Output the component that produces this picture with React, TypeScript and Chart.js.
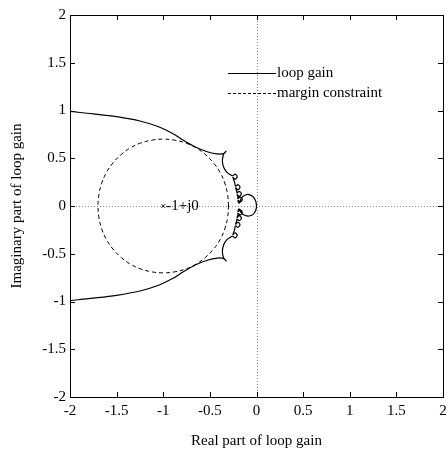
import React, { useEffect, useRef } from "react";
import { Chart, registerables } from "chart.js";

Chart.register(...registerables);

const xTickValues = [-2, -1.5, -1, -0.5, 0, 0.5, 1, 1.5, 2];
const xTickLabels = ["-2", "-1.5", "-1", "-0.5", "0", "0.5", "1", "1.5", "2"];
const yTickValues = [-2, -1.5, -1, -0.5, 0, 0.5, 1, 1.5, 2];
const yTickLabels = ["-2", "-1.5", "-1", "-0.5", "0", "0.5", "1", "1.5", "2"];

const seriesNames = ["loop gain", "margin constraint"];
const xTitle = "Real part of loop gain";
const yTitle = "Imaginary part of loop gain";

// loop gain (Nyquist curve): upper branch, cusp, small loops,
// the little circle at the origin, then the lower branch
const loopGainX = [
  -2.0, -1.75, -1.5, -1.25, -1.05, -0.9, -0.78, -0.65, -0.52, -0.42, -0.355, -0.325, -0.352,
  -0.366, -0.352, -0.317, -0.275,
  -0.255, -0.23, -0.207, -0.23, -0.253, -0.235,
  -0.225, -0.2, -0.177, -0.2, -0.223, -0.212,
  -0.21, -0.185, -0.162, -0.185, -0.208, -0.198,
  -0.2, -0.175, -0.152, -0.175, -0.198, -0.188,
  -0.16, -0.12, -0.08, -0.04, -0.01, 0.0, -0.01, -0.04, -0.08, -0.12, -0.16,
  -0.188, -0.198, -0.175, -0.152, -0.175, -0.2,
  -0.198, -0.208, -0.185, -0.162, -0.185, -0.21,
  -0.212, -0.223, -0.2, -0.177, -0.2, -0.225,
  -0.235, -0.253, -0.23, -0.207, -0.23, -0.255,
  -0.275, -0.317, -0.352, -0.366,
  -0.352, -0.325, -0.355, -0.42, -0.52, -0.65, -0.78, -0.9, -1.05, -1.25, -1.5, -1.75, -2.0,
];
const loopGainY = [
  0.99, 0.965, 0.935, 0.89, 0.83, 0.76, 0.685, 0.615, 0.565, 0.545, 0.548, 0.575, 0.545,
  0.475, 0.405, 0.353, 0.325,
  0.317, 0.333, 0.307, 0.28, 0.3, 0.25,
  0.207, 0.223, 0.197, 0.17, 0.19, 0.155,
  0.137, 0.153, 0.127, 0.1, 0.12, 0.09,
  0.077, 0.093, 0.067, 0.04, 0.06, 0.03,
  0.085, 0.115, 0.12, 0.1, 0.055, 0.0, -0.05, -0.09, -0.105, -0.1, -0.075,
  -0.03, -0.06, -0.04, -0.067, -0.093, -0.077,
  -0.09, -0.12, -0.1, -0.127, -0.153, -0.137,
  -0.155, -0.19, -0.17, -0.197, -0.223, -0.207,
  -0.25, -0.3, -0.28, -0.307, -0.333, -0.317,
  -0.325, -0.353, -0.405, -0.475,
  -0.545, -0.575, -0.548, -0.545, -0.565, -0.615, -0.685, -0.76, -0.83, -0.89, -0.935, -0.965, -0.99,
];

// margin constraint circle (centre -1, radius ~0.7)
const marginX = [
  -0.3, -0.31, -0.34, -0.39, -0.46, -0.55, -0.65, -0.76, -0.88, -1.0,
  -1.12, -1.24, -1.35, -1.45, -1.54, -1.61, -1.66, -1.69, -1.7,
  -1.69, -1.66, -1.61, -1.54, -1.45, -1.35, -1.24, -1.12, -1.0,
  -0.88, -0.76, -0.65, -0.55, -0.46, -0.39, -0.34, -0.31, -0.3,
];
const marginY = [
  0.0, 0.12, 0.24, 0.35, 0.45, 0.54, 0.61, 0.66, 0.69, 0.7,
  0.69, 0.66, 0.61, 0.54, 0.45, 0.35, 0.24, 0.12, 0.0,
  -0.12, -0.24, -0.35, -0.45, -0.54, -0.61, -0.66, -0.69, -0.7,
  -0.69, -0.66, -0.61, -0.54, -0.45, -0.35, -0.24, -0.12, 0.0,
];

const criticalX = [-1];
const criticalY = [0];
const criticalLabel = "-1+j0";

const FONT = "'Liberation Serif', 'Times New Roman', serif";

export default function App() {
  const ref = useRef<HTMLCanvasElement | null>(null);

  useEffect(() => {
    document.body.style.margin = "0";
    const canvas = ref.current;
    if (!canvas) return;

    const framePlugin = {
      id: "framePlugin",
      beforeDatasetsDraw(chart: any) {
        const { ctx, chartArea: a, scales } = chart;
        const x0 = scales.x.getPixelForValue(0);
        const y0 = scales.y.getPixelForValue(0);
        ctx.save();
        ctx.strokeStyle = "#8a8a8a";
        ctx.lineWidth = 1;
        ctx.setLineDash([1, 2]);
        ctx.beginPath();
        ctx.moveTo(Math.round(x0) + 0.5, a.top);
        ctx.lineTo(Math.round(x0) + 0.5, a.bottom);
        ctx.moveTo(a.left, Math.round(y0) + 0.5);
        ctx.lineTo(a.right, Math.round(y0) + 0.5);
        ctx.stroke();
        ctx.restore();
      },
      afterDatasetsDraw(chart: any) {
        const { ctx, chartArea: a, scales } = chart;
        ctx.save();
        ctx.strokeStyle = "#000";
        ctx.lineWidth = 1;
        ctx.setLineDash([]);
        // box
        ctx.strokeRect(
          Math.round(a.left) + 0.5,
          Math.round(a.top) + 0.5,
          Math.round(a.right - a.left),
          Math.round(a.bottom - a.top)
        );
        // inward ticks on all four sides
        const L = 5;
        ctx.beginPath();
        xTickValues.forEach((v) => {
          const px = Math.round(scales.x.getPixelForValue(v)) + 0.5;
          ctx.moveTo(px, a.bottom);
          ctx.lineTo(px, a.bottom - L);
          ctx.moveTo(px, a.top);
          ctx.lineTo(px, a.top + L);
        });
        yTickValues.forEach((v) => {
          const py = Math.round(scales.y.getPixelForValue(v)) + 0.5;
          ctx.moveTo(a.left, py);
          ctx.lineTo(a.left + L, py);
          ctx.moveTo(a.right, py);
          ctx.lineTo(a.right - L, py);
        });
        ctx.stroke();

        // legend
        ctx.font = `15px ${FONT}`;
        ctx.fillStyle = "#000";
        ctx.textBaseline = "middle";
        ctx.textAlign = "left";
        const lx0 = a.left + 158;
        const lx1 = a.left + 206;
        const ly = [a.top + 58, a.top + 78];
        ctx.beginPath();
        ctx.moveTo(lx0, ly[0] + 0.5);
        ctx.lineTo(lx1, ly[0] + 0.5);
        ctx.stroke();
        ctx.setLineDash([3, 2]);
        ctx.beginPath();
        ctx.moveTo(lx0, ly[1] + 0.5);
        ctx.lineTo(lx1, ly[1] + 0.5);
        ctx.stroke();
        ctx.setLineDash([]);
        ctx.fillText(seriesNames[0], lx1 + 1, ly[0]);
        ctx.fillText(seriesNames[1], lx1 + 1, ly[1]);

        // critical point label
        const cx = scales.x.getPixelForValue(criticalX[0]);
        const cy = scales.y.getPixelForValue(criticalY[0]);
        ctx.fillText(criticalLabel, cx + 3, cy);
        ctx.restore();
      },
    };

    const font = { family: FONT, size: 15 };

    const chart = new Chart(canvas, {
      type: "scatter",
      data: {
        datasets: [
          {
            label: seriesNames[0],
            data: loopGainX.map((x, i) => ({ x, y: loopGainY[i] })),
            showLine: true,
            borderColor: "#000",
            borderWidth: 1.2,
            pointRadius: 0,
            tension: 0.35,
            fill: false,
          },
          {
            label: seriesNames[1],
            data: marginX.map((x, i) => ({ x, y: marginY[i] })),
            showLine: true,
            borderColor: "#000",
            borderWidth: 1,
            borderDash: [4, 3],
            pointRadius: 0,
            tension: 0.4,
            fill: false,
          },
          {
            label: "critical",
            data: criticalX.map((x, i) => ({ x, y: criticalY[i] })),
            showLine: false,
            pointStyle: "crossRot",
            pointRadius: 2.5,
            borderColor: "#000",
            borderWidth: 1,
          },
        ],
      },
      options: {
        responsive: false,
        animation: false,
        layout: { padding: { top: 15, right: 3, left: 0, bottom: 0 } },
        plugins: {
          legend: { display: false },
          tooltip: { enabled: false },
        },
        scales: {
          x: {
            type: "linear",
            min: -2,
            max: 2,
            afterBuildTicks: (s: any) => {
              s.ticks = xTickValues.map((v) => ({ value: v }));
            },
            afterFit: (s: any) => {
              s.height = 53;
            },
            ticks: {
              callback: (v: any) => xTickLabels[xTickValues.indexOf(Number(v))],
              font,
              color: "#000",
              padding: 0,
              maxRotation: 0,
              autoSkip: false,
            },
            grid: {
              display: true,
              drawOnChartArea: false,
              drawTicks: true,
              tickLength: 5,
              tickColor: "rgba(0,0,0,0)",
              color: "rgba(0,0,0,0)",
            },
            border: { display: false },
            title: {
              display: true,
              text: xTitle,
              font,
              color: "#000",
              padding: { top: 0, bottom: 0 },
            },
          },
          y: {
            type: "linear",
            min: -2,
            max: 2,
            afterBuildTicks: (s: any) => {
              s.ticks = yTickValues.map((v) => ({ value: v }));
            },
            afterFit: (s: any) => {
              s.width = 70;
            },
            ticks: {
              callback: (v: any) => yTickLabels[yTickValues.indexOf(Number(v))],
              font,
              color: "#000",
              padding: 0,
              autoSkip: false,
            },
            grid: {
              display: true,
              drawOnChartArea: false,
              drawTicks: true,
              tickLength: 4,
              tickColor: "rgba(0,0,0,0)",
              color: "rgba(0,0,0,0)",
            },
            border: { display: false },
            title: {
              display: true,
              text: yTitle,
              font,
              color: "#000",
              padding: { top: 8, bottom: 0 },
            },
          },
        },
      },
      plugins: [framePlugin],
    });

    return () => {
      chart.destroy();
    };
  }, []);

  return (
    <div style={{ width: 448, height: 450 }}>
      <canvas ref={ref} width={448} height={450} style={{ display: "block" }} />
    </div>
  );
}
